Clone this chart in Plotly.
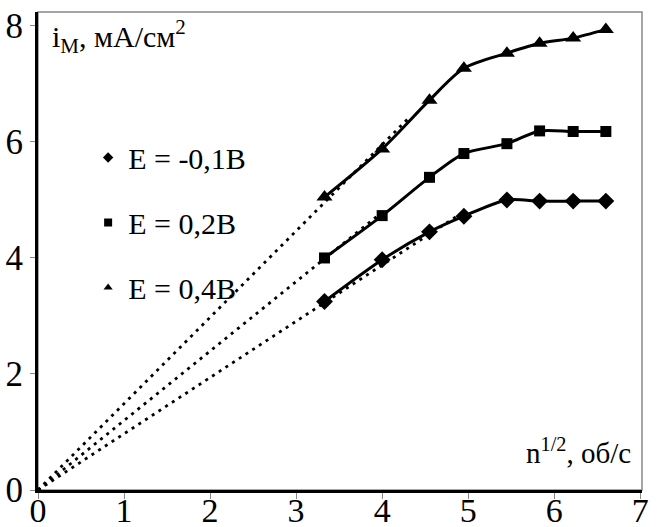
import plotly.graph_objects as go

# data
x_vals = [3.33, 4.0, 4.55, 4.95, 5.45, 5.83, 6.22, 6.6]
y_m01 = [3.25, 3.97, 4.45, 4.72, 5.0, 4.98, 4.98, 4.98]
y_02 = [4.0, 4.73, 5.39, 5.80, 5.97, 6.19, 6.18, 6.18]
y_04 = [5.05, 5.88, 6.72, 7.27, 7.53, 7.70, 7.79, 7.94]

# dotted linear trend lines from the origin (end points)
trend_m01_x = [0, 4.9]
trend_m01_y = [0, 4.75]
trend_02_x = [0, 4.05]
trend_02_y = [0, 4.85]
trend_04_x = [0, 4.3]
trend_04_y = [0, 6.4]

labels = ["E = -0,1В", "E = 0,2В", "E = 0,4В"]
symbols = ["diamond", "square", "triangle-up"]
x_ticks = [0, 1, 2, 3, 4, 5, 6, 7]
y_ticks = [0, 2, 4, 6, 8]

X_RANGE = [0, 7.02]
Y_RANGE = [0, 8.24]

FONT = "'Liberation Serif', 'Times New Roman', Times, serif"
fig = go.Figure()

series = [(y_m01, trend_m01_x, trend_m01_y, 13),
          (y_02, trend_02_x, trend_02_y, 11),
          (y_04, trend_04_x, trend_04_y, 14)]

for (ys, tx, ty, ms), sym in zip(series, symbols):
    fig.add_trace(go.Scatter(x=tx, y=ty, mode="lines",
                             line=dict(color="black", width=2.8, dash="3px,5px"),
                             showlegend=False, hoverinfo="skip"))
    fig.add_trace(go.Scatter(x=x_vals, y=ys, mode="lines+markers",
                             line=dict(color="black", width=3, shape="spline", smoothing=0.8),
                             marker=dict(symbol=sym, size=ms, color="black"),
                             showlegend=False))

for i, (lab, sym) in enumerate(zip(labels, symbols)):
    fig.add_trace(go.Scatter(x=[None], y=[None], mode="markers", name=lab,
                             marker=dict(symbol=sym, size=8, color="black"),
                             legendgroup=f"g{i}", showlegend=True))

# invisible trace on the overlay axes that carry the tick labels
fig.add_trace(go.Scatter(x=[None], y=[None], xaxis="x2", yaxis="y2",
                         showlegend=False, hoverinfo="skip"))

fig.update_layout(
    width=660, height=527,
    margin=dict(l=38, r=18, t=12, b=37),
    paper_bgcolor="white", plot_bgcolor="white",
    font=dict(family=FONT, color="black", size=24),
    showlegend=True,
    legend=dict(x=0.083, y=0.75, xanchor="left", yanchor="top",
                font=dict(family=FONT, size=30, color="black"),
                tracegroupgap=23, bgcolor="rgba(0,0,0,0)", itemwidth=30),
    xaxis=dict(range=X_RANGE, tickvals=x_ticks, showgrid=False, zeroline=False,
               showline=True, linecolor="black", linewidth=3, automargin=False,
               ticks="outside", ticklen=6, tickcolor="#888", tickwidth=1,
               showticklabels=False),
    yaxis=dict(range=Y_RANGE, tickvals=y_ticks, showgrid=False, zeroline=False,
               showline=True, linecolor="black", linewidth=3, automargin=False,
               ticks="outside", ticklen=5, tickcolor="#888", tickwidth=1,
               showticklabels=False),
    xaxis2=dict(range=X_RANGE, tickvals=x_ticks, overlaying="x", anchor="free",
                position=0.007, side="bottom",
                showgrid=False, zeroline=False, showline=False, ticks="",
                automargin=False, tickfont=dict(family=FONT, size=34)),
    yaxis2=dict(range=Y_RANGE, tickvals=y_ticks, overlaying="y", anchor="free",
                position=0.0, side="left",
                showgrid=False, zeroline=False, showline=False,
                ticks="outside", ticklen=8, tickcolor="rgba(0,0,0,0)",
                automargin=False, tickfont=dict(family=FONT, size=35)),
    shapes=[dict(type="rect", xref="paper", yref="paper", x0=0, y0=0, x1=1, y1=1,
                 line=dict(color="#888", width=1.5), layer="below")],
    annotations=[
        dict(text="i<sub>М</sub>, мА/см<sup>2</sup>", xref="paper", yref="paper",
             x=0.02, y=0.998, xanchor="left", yanchor="top", showarrow=False,
             font=dict(family=FONT, size=30)),
        dict(text="n<sup>1/2</sup>, об/с", xref="paper", yref="paper",
             x=0.985, y=0.04, xanchor="right", yanchor="bottom", showarrow=False,
             font=dict(family=FONT, size=29)),
    ],
)

fig.write_html("out.html")
